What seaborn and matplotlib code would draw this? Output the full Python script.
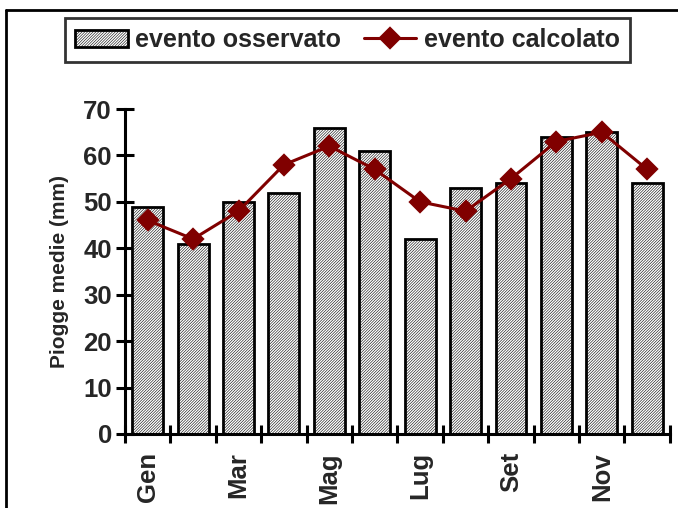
import numpy as np
import matplotlib
matplotlib.use("Agg")
import matplotlib.pyplot as plt
from matplotlib.lines import Line2D
import seaborn as sns

# Monthly mean rainfall (mm)
months = ["Gen", "Feb", "Mar", "Apr", "Mag", "Giu", "Lug", "Ago", "Set", "Ott", "Nov", "Dic"]
observed = [49, 41, 50, 52, 66, 61, 42, 53, 54, 64, 65, 54]
calculated = [46, 42, 48, 58, 62, 57, 50, 48, 55, 63, 65, 57]
shown_labels = ["Gen", "", "Mar", "", "Mag", "", "Lug", "", "Set", "", "Nov", ""]
y_ticks = [0, 10, 20, 30, 40, 50, 60, 70]

sns.set_theme(style="white")
plt.rcParams["font.family"] = ["Liberation Sans", "DejaVu Sans"]
plt.rcParams["font.weight"] = "bold"
plt.rcParams["hatch.linewidth"] = 0.4
plt.rcParams["hatch.color"] = "black"

dark_red = "#800000"
dense_hatch = "/" * 12

fig = plt.figure(figsize=(6.78, 5.08), dpi=100)
ax = fig.add_axes([0.1844, 0.1457, 0.8036, 0.6397])

sns.barplot(x=months, y=observed, ax=ax, color="white", edgecolor="black",
            linewidth=2, width=0.68, label="evento osservato", zorder=2)
for p in ax.patches:
    p.set_hatch(dense_hatch)

sns.pointplot(x=months, y=calculated, ax=ax, color=dark_red, markers="D",
              markersize=10.5, linewidth=2.2, label="evento calcolato", zorder=3)

ax.set_xlim(-0.5, len(months) - 0.5)
ax.set_ylim(0, 70)
ax.set_yticks(y_ticks)
ax.set_yticklabels([str(v) for v in y_ticks], fontsize=18.5, fontweight="bold")

# category boundaries carry the ticks, category centres carry the labels
ax.set_xticks(np.arange(len(months) + 1) - 0.5)
ax.set_xticklabels([])
ax.set_xticks(np.arange(len(months)), minor=True)
ax.set_xticklabels(shown_labels, minor=True, rotation=90, fontsize=18.5, fontweight="bold")
ax.tick_params(axis="x", which="minor", bottom=True, length=0, pad=13)
ax.tick_params(axis="x", which="major", bottom=True, direction="inout",
               length=13, width=2.2, color="black")
ax.tick_params(axis="y", left=True, direction="inout", length=13, width=2.2,
               color="black", pad=3)

ax.set_xlabel("")
ax.set_ylabel("Piogge medie (mm)", fontsize=15, fontweight="bold", labelpad=10)

for side in ("top", "right"):
    ax.spines[side].set_visible(False)
for side in ("left", "bottom"):
    ax.spines[side].set_color("black")
    ax.spines[side].set_linewidth(2.2)
ax.grid(False)

handles, labels = ax.get_legend_handles_labels()
if ax.get_legend() is not None:
    ax.get_legend().remove()
order = [labels.index("evento osservato"), labels.index("evento calcolato")]
handles = [handles[i] for i in order]
labels = [labels[i] for i in order]
leg = fig.legend(handles, labels, loc="center", bbox_to_anchor=(0.5125, 0.921),
                 ncol=2, frameon=True, fancybox=False,
                 prop={"weight": "bold", "size": 18}, handlelength=2.1,
                 handletextpad=0.3, columnspacing=0.9, borderpad=0.4,
                 borderaxespad=0)
leg.get_frame().set_edgecolor("black")
leg.get_frame().set_linewidth(2)
for h in leg.legend_handles:
    if hasattr(h, "set_hatch") and not isinstance(h, Line2D):
        h.set_hatch(dense_hatch)

# outer frame lines along the left and top edges
fig.add_artist(Line2D([0.0085, 0.0085], [0.0, 0.981], transform=fig.transFigure,
                      color="black", linewidth=2))
fig.add_artist(Line2D([0.0085, 1.0], [0.981, 0.981], transform=fig.transFigure,
                      color="black", linewidth=2))

fig.savefig("out.png", dpi=100)
